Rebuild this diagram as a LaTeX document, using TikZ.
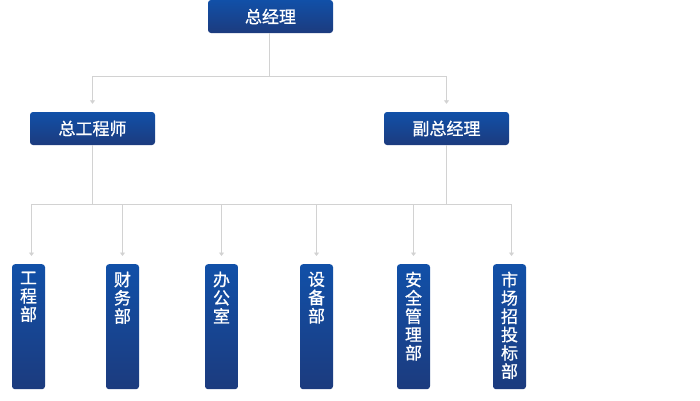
\documentclass[tikz,border=0pt]{standalone}
\usepackage{fontspec}
\newfontfamily\cjk[FakeBold=0.8]{Noto Sans CJK SC}
\usetikzlibrary{arrows.meta}
\definecolor{boxtop}{HTML}{1150A8}
\definecolor{boxbot}{HTML}{1C3B7E}
\definecolor{linegray}{HTML}{D2D2D2}
\begin{document}
\begin{tikzpicture}[x=1pt,y=-1pt,
 box/.style={rounded corners=3pt, top color=boxtop, bottom color=boxbot, draw=none, inner sep=0pt},
 hbox/.style={box, minimum width=125pt, minimum height=33pt, text=white, font=\cjk\fontsize{17}{18}\selectfont},
 vbox/.style={box, minimum width=33pt, minimum height=125pt, anchor=north},
 vtext/.style={text=white, font=\cjk\fontsize{17}{18.3}\selectfont, align=center, inner sep=0pt, anchor=north},
 conn/.style={draw=linegray, line width=0.9pt},
 arr/.style={conn, -{Triangle[width=5pt,length=3.5pt]}, shorten >=8pt}
]
\useasboundingbox (0,0) rectangle (700,400);

\node[hbox] (gm) at (270.5,16.5) {总经理};
\node[hbox] (ce) at (92.5,128.5) {总工程师};
\node[hbox] (dgm) at (446.5,128.5) {副总经理};

\node[vbox] (d1) at (28.5,264) {};
\node[vbox] (d2) at (122.5,264) {};
\node[vbox] (d3) at (221.5,264) {};
\node[vbox] (d4) at (316.5,264) {};
\node[vbox] (d5) at (413.5,264) {};
\node[vbox] (d6) at (509.5,264) {};

\node[vtext] (t1) at ([yshift=-7.5pt]d1.north) {工\\程\\部};
\node[vtext] (t2) at ([yshift=-7.5pt]d2.north) {财\\务\\部};
\node[vtext] (t3) at ([yshift=-7.5pt]d3.north) {办\\公\\室};
\node[vtext] (t4) at ([yshift=-7.5pt]d4.north) {设\\备\\部};
\node[vtext] (t5) at ([yshift=-7.5pt]d5.north) {安\\全\\管\\理\\部};
\node[vtext] (t6) at ([yshift=-7.5pt]d6.north) {市\\场\\招\\投\\标\\部};

% top level bus
\coordinate (b1) at (269.5,76);
\draw[conn] (gm.south -| b1) -- (b1);
\draw[arr] (b1) -| (ce.north);
\draw[arr] (b1) -| (dgm.north);

% lower bus
\coordinate (b2) at (92.5,204);
\coordinate (b3) at (446.5,204);
\draw[conn] (ce.south) -- (b2);
\draw[conn] (dgm.south) -- (b3);
\coordinate (p1) at (31.5,204);
\coordinate (p6) at (511.5,204);
\draw[conn] (p1) -- (p6);
\draw[arr] (p1) -- (p1 |- d1.north);
\draw[arr] (p6) -- (p6 |- d6.north);
\draw[arr] (d2.north |- b2) -- (d2.north);
\draw[arr] (d3.north |- b2) -- (d3.north);
\draw[arr] (d4.north |- b2) -- (d4.north);
\draw[arr] (d5.north |- b2) -- (d5.north);
\end{tikzpicture}
\end{document}
